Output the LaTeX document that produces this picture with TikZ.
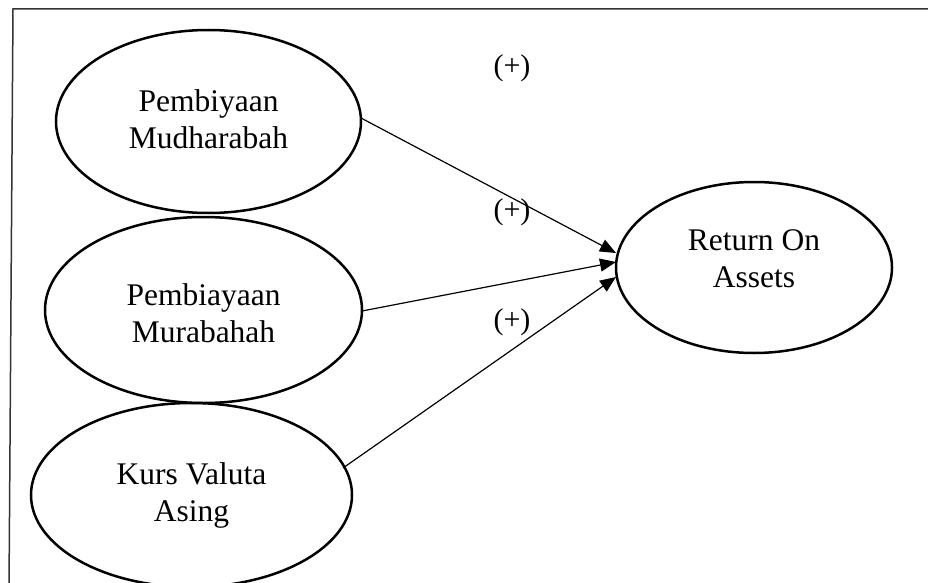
\documentclass[tikz,border=0pt]{standalone}
\usepackage{fontspec}
\setmainfont{Liberation Serif}
\usetikzlibrary{shapes.geometric,arrows.meta}
\begin{document}
\begin{tikzpicture}[x=1pt,y=-1pt,
  latent/.style={draw, ellipse, line width=2.5pt, inner sep=0pt},
  lbl/.style={align=center, inner sep=0pt, font=\fontsize{31.5}{37}\selectfont},
  path/.style={line width=1.2pt, -{Triangle[length=16pt,width=13pt]}},
  sign/.style={font=\fontsize{30}{36}\selectfont, inner sep=0pt},
  frame/.style={line width=1.5pt, draw=black!80}]
\useasboundingbox (0,0) rectangle (928,583);
\coordinate (fa) at (928,9);
\coordinate (fb) at (13,9);
\coordinate (fc) at (9,590);
\draw[frame] (fa) -- (fb) -- (fc);
\node[latent, minimum width=305pt, minimum height=183pt] (m1) at (208.5,121.5) {};
\node[latent, minimum width=317pt, minimum height=186pt] (m2) at (203.5,310) {};
\node[latent, minimum width=321pt, minimum height=184pt] (m3) at (191.5,495) {};
\node[latent, minimum width=276pt, minimum height=171pt] (roa) at (754,267.5) {};
\node[lbl] (m1t) at (208.5,119.5) {Pembiyaan\\Mudharabah};
\node[lbl] (m2t) at (203.5,313) {Pembiayaan\\Murabahah};
\node[lbl] (m3t) at (191.5,495.5) {Kurs Valuta\\Asing};
\node[lbl] (roat) at (754,258.5) {Return On\\Assets};
\coordinate (s1) at (361,118);
\coordinate (s2) at (362,311);
\coordinate (s3) at (343,468);
\coordinate (t1) at (616,253);
\coordinate (t2) at (616,262);
\coordinate (t3) at (616,277);
\draw[path] (s1) -- (t1);
\draw[path] (s2) -- (t2);
\draw[path] (s3) -- (t3);
\node[sign] (p1) at (512,68) {(+)};
\node[sign] (p2) at (512,212) {(+)};
\node[sign] (p3) at (512,322) {(+)};
\end{tikzpicture}
\end{document}
